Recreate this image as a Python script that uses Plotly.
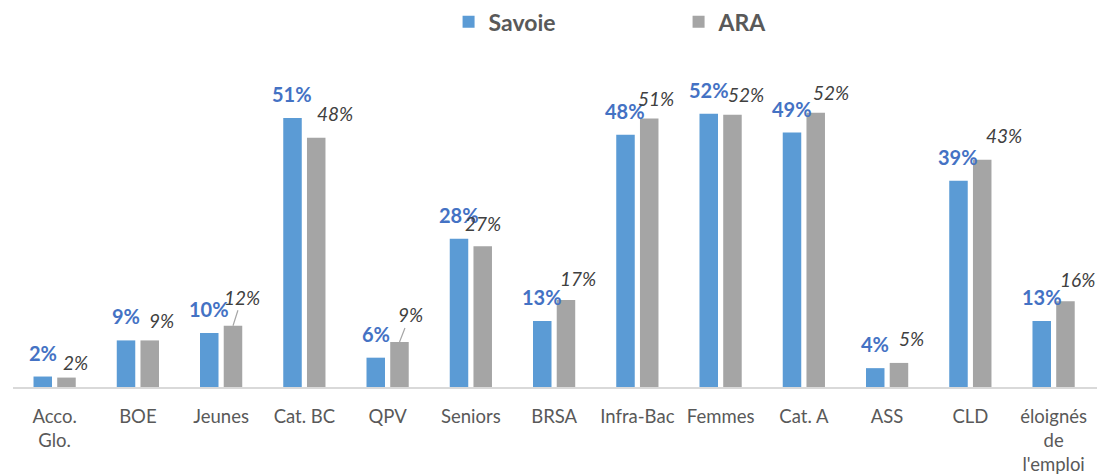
import plotly.graph_objects as go

categories = ["Acco.<br>Glo.", "BOE", "Jeunes", "Cat. BC", "QPV", "Seniors", "BRSA",
              "Infra-Bac", "Femmes", "Cat. A", "ASS", "CLD", "éloignés<br>de<br>l'emploi"]
savoie = [2.0, 8.9, 10.3, 51.4, 5.6, 28.3, 12.6, 48.2, 52.2, 48.6, 3.6, 39.4, 12.6]
ara = [1.8, 8.9, 11.7, 47.6, 8.6, 26.9, 16.6, 51.3, 52.0, 52.4, 4.6, 43.4, 16.4]

# label placement tweaks for ARA labels (px): right offset, up offset, leader line
ara_dx = [9, 12, 9, 19, 10.5, 0, 11.5, 6.5, 13, 15, 12, 21.5, 12]
ara_dy = [15.5, 20, 28.5, 24, 27, 22.7, 22, 20, 20.7, 20.6, 24, 24, 22]
ara_leader = [False, False, True, False, True, False, False, False, False, False, False, False, False]

FONT = "Lato"
BLUE = "#5B9BD5"
GREY = "#A5A5A5"
HALF = 11.9

fig = go.Figure()
fig.add_trace(go.Bar(name="Savoie", x=categories, y=savoie, marker=dict(color=BLUE, line=dict(width=0))))
fig.add_trace(go.Bar(name="ARA", x=categories, y=ara, marker=dict(color=GREY, line=dict(width=0))))

ann = []
for c, v in zip(categories, savoie):
    ann.append(dict(x=c, y=v, xref="x", yref="y", text=f"{round(v)}%", showarrow=False,
                    xshift=-HALF, yshift=24, yanchor="middle", xanchor="center",
                    font=dict(family=FONT, size=20, color="#4472C4", weight="bold")))
for c, v, dx, dy, ld in zip(categories, ara, ara_dx, ara_dy, ara_leader):
    if ld:
        ann.append(dict(x=c, y=v, xref="x", yref="y", text=f"<i>{round(v)}%</i>", showarrow=True,
                        arrowhead=0, arrowwidth=1.2, arrowcolor="#A6A6A6", standoff=0,
                        ax=dx, ay=-dy, xshift=HALF,
                        font=dict(family=FONT, size=19, color="#404040")))
    else:
        ann.append(dict(x=c, y=v, xref="x", yref="y", text=f"<i>{round(v)}%</i>", showarrow=False,
                        xshift=HALF + dx, yshift=dy, yanchor="middle", xanchor="center",
                        font=dict(family=FONT, size=19, color="#404040")))

fig.update_layout(
    width=1112, height=474,
    margin=dict(l=13, r=15, t=70, b=87, autoexpand=False),
    paper_bgcolor="white", plot_bgcolor="white",
    barmode="group", bargap=0.43, bargroupgap=0.22,
    font=dict(family=FONT, color="#595959"),
    showlegend=True,
    legend=dict(orientation="h", x=0.614, xanchor="center", y=0.954, yanchor="middle",
                yref="container", entrywidth=185,
                font=dict(family=FONT, size=23, color="#595959", weight="bold")),
    annotations=ann,
    xaxis=dict(type="category", showline=True, linecolor="#D9D9D9", linewidth=2,
               automargin=False, ticklabelstandoff=12,
               ticks="", tickfont=dict(family=FONT, size=18.5, color="#595959"), showgrid=False),
    yaxis=dict(range=[0, 60.55], visible=False, showgrid=False, zeroline=False, automargin=False),
)

fig.write_html("out.html", config={"displayModeBar": False},
               post_script="document.body.style.margin='0';document.body.style.overflow='hidden';")
